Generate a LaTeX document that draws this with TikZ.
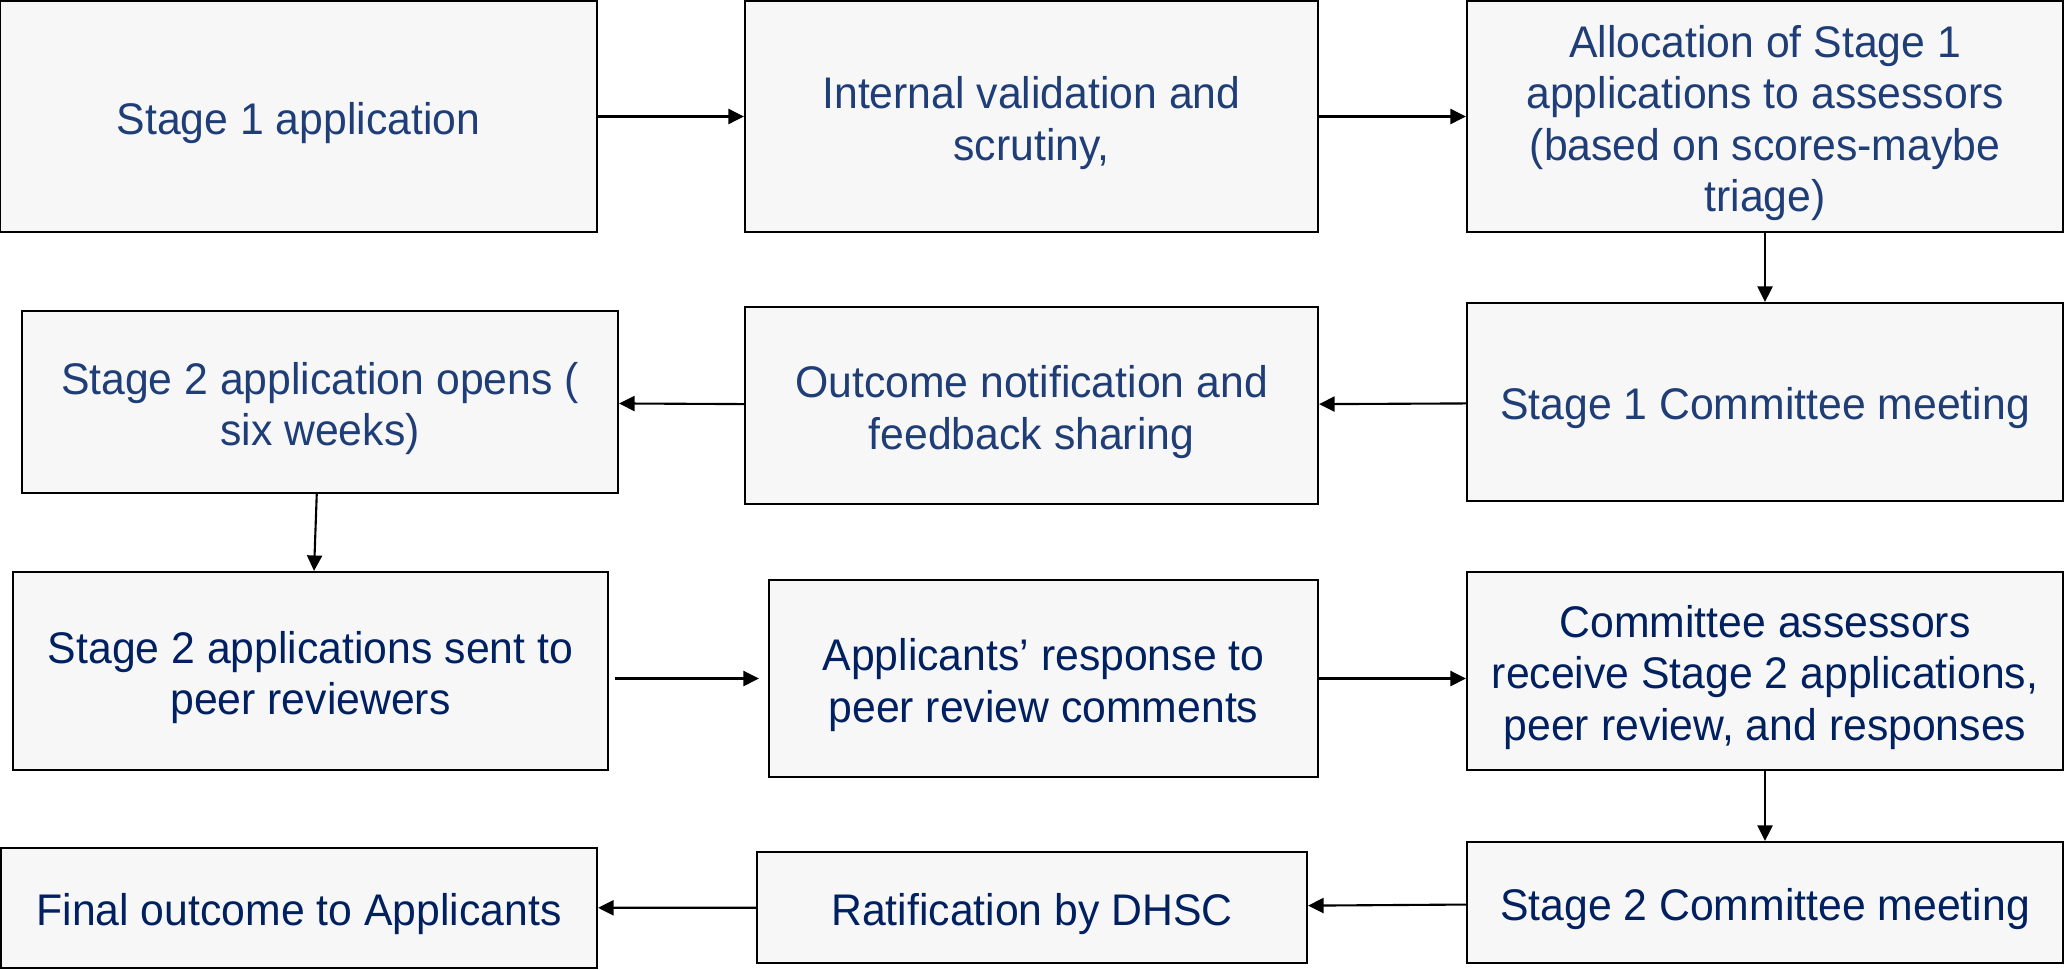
\documentclass[tikz,border=0pt]{standalone}
\usepackage{fontspec}
\setmainfont{Liberation Sans}[FakeStretch=0.965]
\usepackage{xcolor}
\usepackage{tikz}
\usetikzlibrary{positioning,calc,arrows.meta}

\definecolor{boxfill}{RGB}{247,247,247}
\definecolor{navyone}{RGB}{31,62,119}
\definecolor{navytwo}{RGB}{0,32,96}

% #1 = number of text lines in the box
\tikzset{
    stagebox/.style={draw=black, line width=0.6pt, fill=boxfill, inner sep=0pt,
        align=center, font=\fontsize{12.6}{14.6}\selectfont,
        execute at begin node={\rule{0pt}{\dimexpr 13pt-14.6pt+14.6pt*#1\relax}},
        execute at end node={\rule[-2.8pt]{0pt}{2.8pt}}},
    stagebox/.default=1,
    arr/.style={-{Triangle[length=0.155cm, width=0.15cm]}, line width=0.6pt}
}

\begin{document}
\begin{tikzpicture}
    \useasboundingbox (0,0) rectangle (20.65,9.69);

    % Row 1
    \node[stagebox, text=navyone, minimum width=5.97cm, minimum height=2.31cm] (sapp) at (2.985,8.525) {Stage 1 application};
    \node[stagebox=2, text=navyone, minimum width=5.73cm, minimum height=2.31cm] (valid) at (10.315,8.525) {Internal validation and\\scrutiny,};
    \node[stagebox=4, text=navyone, minimum width=5.96cm, minimum height=2.31cm] (alloc) at (17.65,8.525) {Allocation of Stage 1\\applications to assessors\\(based on scores-maybe\\triage)};

    % Row 2
    \node[stagebox=2, text=navyone, minimum width=5.96cm, minimum height=1.82cm] (sopen) at (3.20,5.67) {Stage 2 application opens (\\six weeks)};
    \node[stagebox=2, text=navyone, minimum width=5.73cm, minimum height=1.97cm] (notify) at (10.315,5.635) {Outcome notification and\\feedback sharing};
    \node[stagebox, text=navyone, minimum width=5.96cm, minimum height=1.98cm] (cmone) at (17.65,5.67) {Stage 1 Committee meeting};

    % Row 3
    \node[stagebox=2, text=navytwo, minimum width=5.95cm, minimum height=1.98cm] (ssent) at (3.105,2.98) {Stage 2 applications sent to\\peer reviewers};
    \node[stagebox=2, text=navytwo, minimum width=5.49cm, minimum height=1.97cm] (resp) at (10.435,2.905) {Applicants’ response to\\peer review comments};
    \node[stagebox=3, text=navytwo, minimum width=5.96cm, minimum height=1.98cm] (assess) at (17.65,2.98) {Committee assessors\\receive Stage 2 applications,\\peer review, and responses};

    % Row 4
    \node[stagebox, text=navytwo, minimum width=5.96cm, minimum height=1.20cm] (final) at (2.99,0.61) {Final outcome to Applicants};
    \node[stagebox, text=navytwo, minimum width=5.50cm, minimum height=1.11cm] (ratify) at (10.32,0.615) {Ratification by DHSC};
    \node[stagebox, text=navytwo, minimum width=5.96cm, minimum height=1.21cm] (cmtwo) at (17.65,0.665) {Stage 2 Committee meeting};

    % Connectors
    \draw[arr] (sapp) -- (valid);
    \draw[arr] (valid) -- (alloc);
    \draw[arr] (alloc) -- (cmone);
    \draw[arr] (cmone) -- (notify);
    \draw[arr] (notify) -- (sopen);
    \draw[arr] (sopen) -- (ssent);
    \draw[arr, shorten <=0.06cm, shorten >=0.09cm] (ssent.east |- resp.west) -- (resp.west);
    \draw[arr] (resp) -- (assess.west |- resp);
    \draw[arr] (assess) -- (cmtwo);
    \draw[arr] (cmtwo) -- (ratify);
    \draw[arr] (ratify) -- (final);
\end{tikzpicture}
\end{document}
